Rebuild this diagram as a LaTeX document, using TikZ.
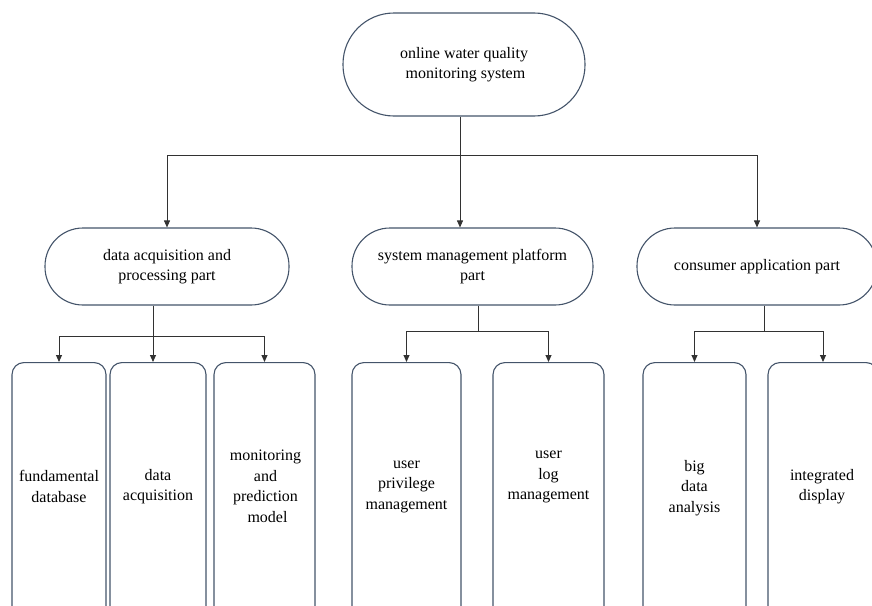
\documentclass[tikz,border=0pt]{standalone}
\usepackage{fontspec}
\setmainfont{Liberation Serif}
\usetikzlibrary{arrows.meta}
\definecolor{edgeblue}{RGB}{68,84,106}
\definecolor{linegray}{RGB}{50,50,50}

\begin{document}
\begin{tikzpicture}[x=1pt, y=-1pt,
  font=\fontsize{16}{20.5}\selectfont,
  pill/.style={draw=edgeblue, line width=1.1pt, align=center, inner sep=0pt},
  leaf/.style={draw=edgeblue, line width=1.1pt, rounded corners=12pt, anchor=north, minimum height=300pt, inner sep=0pt},
  txt/.style={align=center},
  link/.style={draw=linegray, line width=0.9pt},
  arr/.style={link, -{Triangle[length=7pt,width=6pt]}}]
\useasboundingbox (0,0) rectangle (872,605);
\clip (0,0) rectangle (872,605);

\node[pill, rounded corners=51pt, minimum width=242pt, minimum height=103pt] (top) at (464,64.5) {online water quality\\\hspace*{3pt}monitoring system};
\node[pill, rounded corners=38pt, minimum width=244pt, minimum height=77pt] (dap) at (167,266.5) {data acquisition and\\processing part};
\node[pill, rounded corners=38pt, minimum width=241pt, minimum height=77pt] (smp) at (472.5,266.5) {system management platform\\part};
\node[pill, rounded corners=38pt, minimum width=240pt, minimum height=77pt] (cap) at (757,266.5) {consumer application part};

\node[leaf, minimum width=94pt] (fd) at (59,362) {};
\node[leaf, minimum width=96pt] (da) at (158,362) {};
\node[leaf, minimum width=101pt] (mpm) at (264.5,362) {};
\node[leaf, minimum width=109pt] (upm) at (406.5,362) {};
\node[leaf, minimum width=111pt] (ulm) at (548.5,362) {};
\node[leaf, minimum width=103pt] (bda) at (694.5,362) {};
\node[leaf, minimum width=110pt] (ide) at (823,362) {};

\node[txt] (fdt) at (59,486.5) {fundamental\\database};
\node[txt] (dat) at (158,486.5) {data\\acquisition};
\node[txt] (mpmt) at (265.5,486.5) {monitoring\\and\\prediction\\\hspace*{4pt}model};
\node[txt] (upmt) at (406.5,486.5) {user\\privilege\\management};
\node[txt] (ulmt) at (548.5,477) {user\\log\\management};
\node[txt] (bdat) at (694.5,488) {big\\data\\analysis};
\node[txt] (idet) at (822,486.5) {integrated\\display};

\coordinate (j0) at (460,155);
\coordinate (j1) at (153,336);
\coordinate (j2) at (478,331);
\coordinate (j3) at (764,331);

\draw[link] (top.south -| j0) -- (j0);
\draw[arr] (j0) -| (dap.north);
\draw[arr] (j0) -- (j0 |- smp.north);
\draw[arr] (j0) -| (cap.north);

\draw[link] (dap.south -| j1) -- (j1);
\draw[arr] (j1) -| (fd.north);
\draw[arr] (j1) -- (j1 |- da.north);
\draw[arr] (j1) -| (mpm.north);

\draw[link] (smp.south -| j2) -- (j2);
\draw[arr] (j2) -| (upm.north);
\draw[arr] (j2) -| (ulm.north);

\draw[link] (cap.south -| j3) -- (j3);
\draw[arr] (j3) -| (bda.north);
\draw[arr] (j3) -| (ide.north);
\end{tikzpicture}
\end{document}
